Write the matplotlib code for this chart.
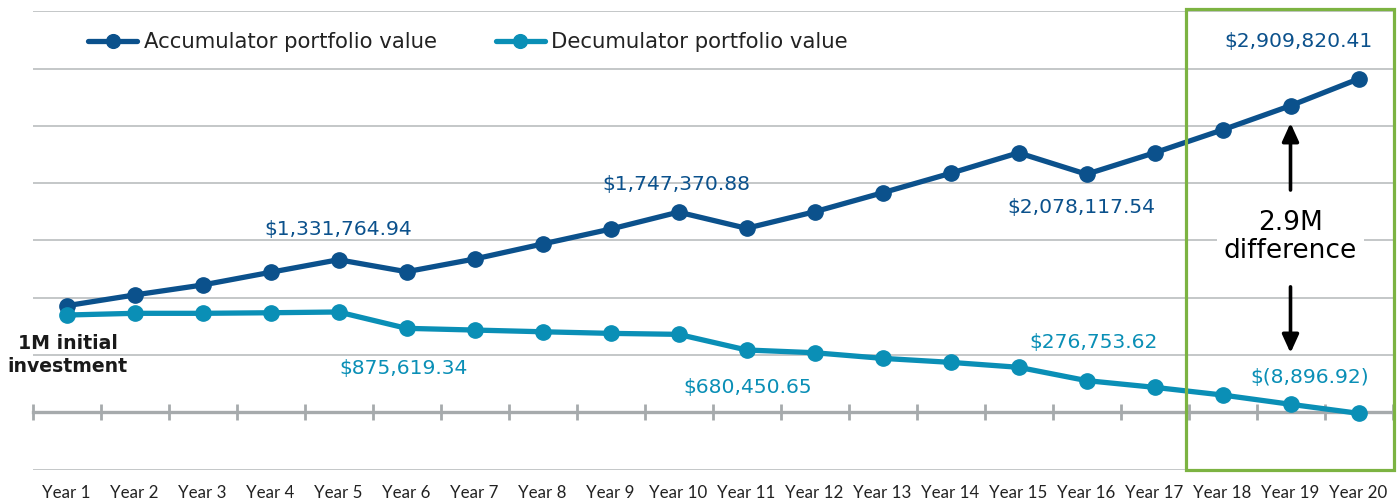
"""Accumulator vs decumulator portfolio value over 20 years."""

import matplotlib
matplotlib.use("Agg")
import matplotlib.pyplot as plt
from matplotlib import font_manager
from matplotlib.patches import Rectangle
import numpy as np


years = np.arange(1, 21)
year_labels = [f"Year {y}" for y in years]

accumulator = [
    930_000, 1_024_000, 1_111_000, 1_222_000, 1_331_764.94,
    1_227_000, 1_338_000, 1_469_000, 1_599_000, 1_747_370.88,
    1_606_000, 1_750_000, 1_916_000, 2_086_000, 2_265_000,
    2_078_117.54, 2_265_000, 2_465_000, 2_676_000, 2_909_820.41,
]
decumulator = [
    849_000, 864_000, 864_000, 869_000, 875_619.34,
    733_000, 718_000, 703_000, 689_000, 680_450.65,
    544_000, 520_000, 471_000, 436_000, 393_000,
    276_753.62, 218_000, 151_000, 70_000, -8_896.92,
]

# which points get a value label, and where the label sits (pixels from the point)
acc_labels = {4: (0, 30), 9: (-2, 28), 15: (-5, -33), 19: (-60, 37)}
dec_labels = {4: (65, -57), 9: (69, -53), 15: (7, 38), 19: (-49, 36)}

ACC_COLOR = "#0b518c"
DEC_COLOR = "#0a8fb6"
GRID_COLOR = "#bfc3c4"
GREEN = "#7cb342"


def money(value):
    if value < 0:
        return f"$({abs(value):,.2f})"
    return f"${value:,.2f}"


def main():
    plt.rcParams["font.family"] = ["DejaVu Sans"]
    installed = {f.name for f in font_manager.fontManager.ttflist}
    if "Liberation Sans Narrow" in installed:
        tick_font, tick_size = "Liberation Sans Narrow", 13.8
    else:
        tick_font, tick_size = "Lato", 12.2

    fig = plt.figure(figsize=(14, 5.04), dpi=100)
    ax = fig.add_axes([32.5 / 1400, 34.4 / 504, 1360 / 1400, 458.3 / 504])

    ax.set_xlim(0.5, 20.5)
    ax.set_ylim(-500_000, 3_500_000)
    ax.set_yticks(np.arange(-500_000, 3_500_001, 500_000))
    ax.yaxis.set_ticklabels([])
    ax.tick_params(axis="y", length=0)
    ax.grid(axis="y", color=GRID_COLOR, lw=1.3, zorder=0)
    ax.set_axisbelow(True)
    for spine in ax.spines.values():
        spine.set_visible(False)

    ax.set_xticks(years, year_labels)
    ax.tick_params(axis="x", length=0, pad=11, labelsize=tick_size, labelcolor="#222222")
    for lbl in ax.get_xticklabels():
        lbl.set_family([tick_font, "DejaVu Sans"])

    # zero line with category-boundary ticks
    zero = ax.secondary_xaxis(0.125)
    zero.set_xticks(np.arange(0.5, 21, 1.0), labels=[])
    zero.tick_params(direction="inout", length=11, width=2, color="#a6aaac")
    zero.spines["bottom"].set_color("#a6aaac")
    zero.spines["bottom"].set_linewidth(2.4)
    zero.set_zorder(1.5)

    ax.plot(years, accumulator, color=ACC_COLOR, lw=3.8, marker="o", ms=11,
            label="Accumulator portfolio value", zorder=3, solid_capstyle="round")
    ax.plot(years, decumulator, color=DEC_COLOR, lw=3.8, marker="o", ms=11,
            label="Decumulator portfolio value", zorder=3, solid_capstyle="round")

    for idx, (dx, dy) in acc_labels.items():
        ax.annotate(money(accumulator[idx]), (years[idx], accumulator[idx]),
                    xytext=(dx, dy), textcoords="offset pixels", ha="center",
                    va="center", fontsize=14.6, color=ACC_COLOR, zorder=4)
    for idx, (dx, dy) in dec_labels.items():
        ax.annotate(money(decumulator[idx]), (years[idx], decumulator[idx]),
                    xytext=(dx, dy), textcoords="offset pixels", ha="center",
                    va="center", fontsize=14.6, color=DEC_COLOR, zorder=4)

    ax.annotate("1M initial\ninvestment", (years[0], decumulator[0]),
                xytext=(1, -40), textcoords="offset pixels", ha="center",
                va="center", fontsize=13.6, fontweight="bold", color="#1a1a1a",
                linespacing=1.25)

    # highlight of the last years and the gap between the two lines
    ax.add_patch(Rectangle((17.46, -500_000), 3.06, 4_020_000, fill=False,
                           edgecolor=GREEN, lw=2.3, clip_on=False, zorder=5))
    gap_x = years[18]
    arrow = dict(arrowstyle="-|>,head_length=0.55,head_width=0.25",
                 mutation_scale=20, lw=2.6, color="black",
                 shrinkA=0, shrinkB=0)
    ax.annotate("", xy=(gap_x, 2_525_000), xytext=(gap_x, 1_940_000),
                arrowprops=arrow, zorder=4)
    ax.annotate("", xy=(gap_x, 518_000), xytext=(gap_x, 1_095_000),
                arrowprops=arrow, zorder=4)
    ax.text(gap_x, 1_530_000, "2.9M\ndifference", ha="center", va="center",
            fontsize=19, color="black", linespacing=1.1, zorder=4,
            bbox=dict(facecolor="white", edgecolor="none", pad=5))

    ax.legend(loc="center left", bbox_to_anchor=(0.041, 0.932), ncol=2,
              frameon=False, fontsize=15.3, handlelength=2.3,
              handletextpad=0.3, columnspacing=2.8, borderpad=0,
              borderaxespad=0, markerscale=0.9, labelcolor="#222222")

    fig.savefig("out.png", dpi=100)


if __name__ == "__main__":
    main()
